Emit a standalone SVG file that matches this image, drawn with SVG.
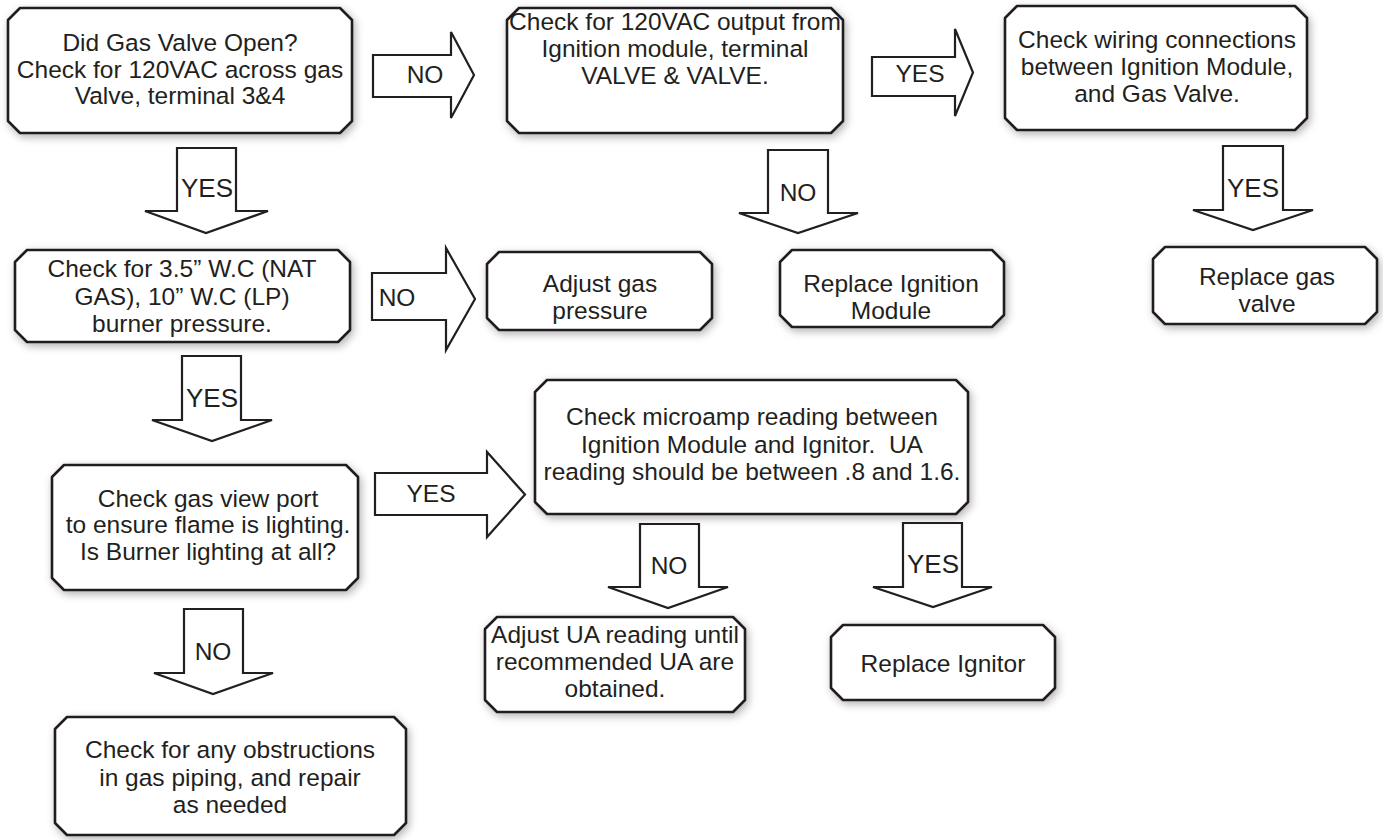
<svg xmlns="http://www.w3.org/2000/svg" width="1383" height="840" viewBox="0 0 1383 840">
<style>
.box{fill:#fff;stroke:#231f20;stroke-width:2.6;stroke-linejoin:round;filter:url(#sh)}
.arr{fill:#fff;stroke:#231f20;stroke-width:2.2;stroke-linejoin:miter}
text{font-family:"Liberation Sans",Arial,sans-serif;font-size:24.5px;fill:#231f20;text-anchor:middle}
.lbl{font-size:26px}
</style>
<defs>
<filter id="sh" x="-10%" y="-20%" width="120%" height="140%">
<feDropShadow dx="2" dy="3" stdDeviation="4" flood-color="#000" flood-opacity="0.3"/>
</filter>
</defs>
<rect width="1383" height="840" fill="#fff"/>
<g id="connectors">
<g id="c1"><path class="arr" d="M373,55 H451 V32 L474,75 L451,118 V97 H373 Z"/><text x="425" y="83">NO</text></g>
<g id="c2"><path class="arr" d="M872,57 H955 V29 L973,72.5 L955,116 V96 H872 Z"/><text x="920" y="82">YES</text></g>
<g id="c3"><path class="arr" d="M177,148 H236 V211 H268 L206,233 L145,211 H177 Z"/><text class="lbl" x="207" y="197">YES</text></g>
<g id="c4"><path class="arr" d="M768,150 H828 V213 H858 L798,233 L739,213 H768 Z"/><text x="798" y="201">NO</text></g>
<g id="c5"><path class="arr" d="M1223,146 H1283 V210 H1313 L1253,230 L1193,210 H1223 Z"/><text class="lbl" x="1253" y="197">YES</text></g>
<g id="c6"><path class="arr" d="M372,273 H446 V248 L475,299 L446,350 V320 H372 Z"/><text x="397" y="306">NO</text></g>
<g id="c7"><path class="arr" d="M182,356 H241 V420 H272 L212,441 L152,420 H182 Z"/><text class="lbl" x="212" y="407">YES</text></g>
<g id="c8"><path class="arr" d="M375,473 H487 V452 L525,494.5 L487,537 V515 H375 Z"/><text x="431" y="502">YES</text></g>
<g id="c9"><path class="arr" d="M640,524 H699 V587 H728 L668,608 L608,587 H640 Z"/><text x="669" y="574">NO</text></g>
<g id="c10"><path class="arr" d="M903,523 H962 V587 H992 L933,607 L873,587 H903 Z"/><text class="lbl" x="933" y="573">YES</text></g>
<g id="c11"><path class="arr" d="M184,609 H243 V673 H273 L213,694 L154,673 H184 Z"/><text x="213" y="660">NO</text></g>
</g>
<g id="n1"><path class="box" d="M20,8 H340 L352,20 V121 L340,133 H20 L8,121 V20 Z"/>
<text x="180" y="51">Did Gas Valve Open?</text><text x="180" y="77.5">Check for 120VAC across gas</text><text x="180" y="104">Valve, terminal 3&amp;4</text></g>
<g id="n2"><path class="box" d="M519,8 H831 L843,20 V121 L831,133 H519 L507,121 V20 Z"/>
<text x="675" y="29.5">Check for 120VAC output from</text><text x="675" y="57">Ignition module, terminal</text><text x="675" y="84">VALVE &amp; VALVE.</text></g>
<g id="n3"><path class="box" d="M1017,6 H1295 L1307,18 V118 L1295,130 H1017 L1005,118 V18 Z"/>
<text x="1157" y="48">Check wiring connections</text><text x="1157" y="75">between Ignition Module,</text><text x="1157" y="102">and Gas Valve.</text></g>
<g id="n4"><path class="box" d="M27,250 H338 L350,262 V330 L338,342 H27 L15,330 V262 Z"/>
<text x="182" y="277">Check for 3.5” W.C (NAT</text><text x="182" y="305">GAS), 10” W.C (LP)</text><text x="182" y="332">burner pressure.</text></g>
<g id="n5"><path class="box" d="M499,252 H700 L712,264 V318 L700,330 H499 L487,318 V264 Z"/>
<text x="600" y="292">Adjust gas</text><text x="600" y="319">pressure</text></g>
<g id="n6"><path class="box" d="M792,250 H992 L1004,262 V315 L992,327 H792 L780,315 V262 Z"/>
<text x="891" y="292">Replace Ignition</text><text x="891" y="319">Module</text></g>
<g id="n7"><path class="box" d="M1165,247 H1365 L1377,259 V312 L1365,324 H1165 L1153,312 V259 Z"/>
<text x="1267" y="285">Replace gas</text><text x="1267" y="312">valve</text></g>
<g id="n8"><path class="box" d="M64,465 H346 L358,477 V578 L346,590 H64 L52,578 V477 Z"/>
<text x="208" y="507">Check gas view port</text><text x="208" y="533">to ensure flame is lighting.</text><text x="208" y="560">Is Burner lighting at all?</text></g>
<g id="n9"><path class="box" d="M547,380 H956 L968,392 V502 L956,514 H547 L535,502 V392 Z"/>
<text x="752" y="425">Check microamp reading between</text><text x="752" y="453" xml:space="preserve">Ignition Module and Ignitor.  UA</text><text x="752" y="480">reading should be between .8 and 1.6.</text></g>
<g id="n10"><path class="box" d="M497,617 H733 L745,629 V700 L733,712 H497 L485,700 V629 Z"/>
<text x="615" y="643">Adjust UA reading until</text><text x="615" y="670">recommended UA are</text><text x="615" y="697">obtained.</text></g>
<g id="n11"><path class="box" d="M843,625 H1043 L1055,637 V688 L1043,700 H843 L831,688 V637 Z"/>
<text x="943" y="672">Replace Ignitor</text></g>
<g id="n12"><path class="box" d="M67,717 H394 L406,729 V823 L394,835 H67 L55,823 V729 Z"/>
<text x="230" y="758">Check for any obstructions</text><text x="230" y="786">in gas piping, and repair</text><text x="230" y="813">as needed</text></g>
</svg>
